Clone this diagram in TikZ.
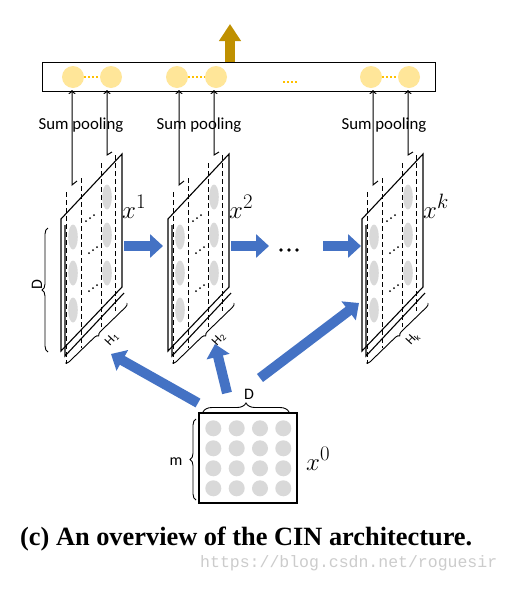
\documentclass[tikz,border=0pt]{standalone}
\usepackage{fontspec}
\setmainfont{Carlito}
\newfontfamily\capfont{Liberation Serif}
\newfontfamily\wmfont{Liberation Mono}
\usetikzlibrary{arrows.meta,decorations.pathreplacing}
\definecolor{cinblue}{HTML}{4472C4}
\definecolor{cingold}{HTML}{BF9000}
\definecolor{cinyellow}{HTML}{FFE699}
\definecolor{cinorange}{HTML}{FFC000}
\definecolor{cingray}{HTML}{D9D9D9}
\tikzset{
  slab/.style={line width=1.1pt},
  dashln/.style={line width=1pt, dash pattern=on 5pt off 3pt},
  pool/.style={line width=1pt, -{To[length=4pt,width=7pt]}},
  brc/.style={line width=0.9pt, decorate, decoration={brace, amplitude=#1}},
  brc/.default=5pt,
  bluearrow/.style={draw=cinblue, line width=10pt, -{Triangle[length=13pt,width=23pt]}},
  goldarrow/.style={draw=cingold, line width=10pt, -{Triangle[length=17pt,width=21pt]}},
  ylw/.style={circle, fill=cinyellow, minimum size=22pt, inner sep=0pt},
  gdot/.style={circle, fill=cingray, minimum size=16pt, inner sep=0pt},
  orangedots/.style={draw=cinorange, line width=1.6pt, dash pattern=on 1.6pt off 2.4pt},
  lbl/.style={inner sep=0pt, font=\fontsize{16}{16}\selectfont},
  pooltxt/.style={inner sep=0pt, font=\fontsize{16.8}{17}\selectfont},
  xlab/.style={inner sep=0pt, anchor=base west, font=\fontsize{30}{30}\selectfont},
}
\newcommand\cinstack[4]{%
\begin{scope}[shift={(#1,219)}]
  \foreach \yy in {18,54,91} \fill[cingray] (12,\yy) ellipse [x radius=4.8pt, y radius=12.5pt];
  \foreach \yy in {-22,16,54} \fill[cingray] (46,\yy) ellipse [x radius=4.8pt, y radius=12.5pt];
  \foreach \cx/\cy in {29/-1,32/31,32/69} {
    \fill (\cx-4,\cy+3) circle (1pt);
    \fill (\cx,\cy) circle (1pt);
    \fill (\cx+4,\cy-3) circle (1pt);
  }
  \draw[dashln] (5.5,-27) -- (5.5,145);
  \draw[dashln] (20,-41) -- (20,129);
  \draw[dashln] (40,-56) -- (40,108);
  \draw[dashln] (54,-64) -- (54,92);
  \coordinate (#2-tl) at (0,0);
  \coordinate (#2-tr) at (61,-65);
  \coordinate (#2-br) at (61,68);
  \coordinate (#2-bl) at (0,132);
  \draw[slab] (#2-tl) -- (#2-tr) -- (#2-br) -- (#2-bl) -- cycle;
  \draw[slab] (4,6) -- (4,137) -- (63,74);
  \coordinate (#2-ha) at (66,84);
  \coordinate (#2-hb) at (4,144);
  \draw[brc=4pt] (#2-ha) -- (#2-hb);
  \node[inner sep=0pt, rotate=47, font=\fontsize{13}{13}\selectfont] (#2-H) at (51,120) {H\textsubscript{#3}};
  \coordinate (#2-pa) at (11,-34);
  \coordinate (#2-pat) at (16,-38);
  \coordinate (#2-pb) at (46,-64);
  \coordinate (#2-pbt) at (51,-67);
  \coordinate (#2-qa) at (11,-129);
  \coordinate (#2-qb) at (46,-129);
  \draw[pool] (#2-pat) -- (#2-pa) -- (#2-qa);
  \draw[pool] (#2-pbt) -- (#2-pb) -- (#2-qb);
  \node[xlab] (#2-x) at (61,-1) {$x^{#4}$};
\end{scope}}

\begin{document}
\begin{tikzpicture}[x=1pt,y=-1pt]
\useasboundingbox (0,0) rectangle (510,590);
\fill[white] (0,0) rectangle (510,590);

% output arrow and bar
\coordinate (gs) at (230,62);
\coordinate (ge) at (230,24);
\draw[goldarrow] (gs) -- (ge);
\node[draw, line width=1.1pt, minimum width=393pt, minimum height=28.5pt, inner sep=0pt, anchor=north west] (bar) at (42,62) {};

\node[ylw] (c11) at (73,77) {};
\node[ylw] (c12) at (111,77) {};
\node[ylw] (c21) at (177,77) {};
\node[ylw] (c22) at (216,77) {};
\node[ylw] (c31) at (371,77) {};
\node[ylw] (c32) at (409,77) {};
\draw[orangedots] (c11.east) -- (c12.west);
\draw[orangedots] (c21.east) -- (c22.west);
\draw[orangedots] (c31.east) -- (c32.west);
\coordinate (md1) at (283,82);
\coordinate (md2) at (298,82);
\draw[orangedots] (md1) -- (md2);

% sum pooling labels
\node[pooltxt] (sp1) at (81,125) {Sum pooling};
\node[pooltxt] (sp2) at (199,125) {Sum pooling};
\node[pooltxt] (sp3) at (384,125) {Sum pooling};

% stacks
\cinstack{61}{s1}{1}{1}
\cinstack{168}{s2}{2}{2}
\cinstack{362}{s3}{k}{k}

% D brace of first stack
\coordinate (db1) at (48,352);
\coordinate (db2) at (48,228);
\draw[brc=6pt] (db1) -- (db2);
\node[lbl, rotate=90] (dlab) at (37,285) {D};

% horizontal arrows
\coordinate (h1s) at (124,246);
\coordinate (h1e) at (163,246);
\coordinate (h2s) at (231,246);
\coordinate (h2e) at (269,246);
\coordinate (h3s) at (323,246);
\coordinate (h3e) at (361,246);
\draw[bluearrow] (h1s) -- (h1e);
\draw[bluearrow] (h2s) -- (h2e);
\draw[bluearrow] (h3s) -- (h3e);
\fill (281,250) circle (1.9pt);
\fill (289,250) circle (1.9pt);
\fill (297,250) circle (1.9pt);

% x0 matrix
\node[draw, line width=1.1pt, minimum width=98pt, minimum height=90pt, inner sep=0pt] (x0) at (248,458) {};
\foreach \i/\xx in {1/213.3,2/236.7,3/260,4/283.3}
  \foreach \j/\yy in {1/428.3,2/448.3,3/468.3,4/488.3}
    \node[gdot] (g\i\j) at (\xx,\yy) {};
\coordinate (xd1) at (203,412);
\coordinate (xd2) at (289,412);
\draw[brc=9pt] (xd1) -- (xd2);
\node[lbl] (xdlab) at (249,394) {D};
\coordinate (xm1) at (196,500);
\coordinate (xm2) at (196,419);
\draw[brc=6pt] (xm1) -- (xm2);
\node[lbl] (xmlab) at (176,462) {m};
\node[xlab] (x0lab) at (306,470) {$x^{0}$};

% diagonal arrows
\coordinate (d1s) at (198,403);
\coordinate (d1e) at (111,354);
\coordinate (d2s) at (227,393);
\coordinate (d2e) at (215,344);
\coordinate (d3s) at (260,378);
\coordinate (d3e) at (359,303);
\draw[bluearrow] (d1s) -- (d1e);
\draw[bluearrow] (d2s) -- (d2e);
\draw[bluearrow] (d3s) -- (d3e);

% caption and watermark
\node[anchor=base west, inner sep=0pt] (cap) at (20,545) {\resizebox{452pt}{!}{\capfont\bfseries (c) An overview of the CIN architecture.}};
\node[anchor=base west, inner sep=0pt, text=black!20] (wm) at (200,567) {\resizebox{297pt}{!}{\wmfont https://blog.csdn.net/roguesir}};
\end{tikzpicture}
\end{document}
